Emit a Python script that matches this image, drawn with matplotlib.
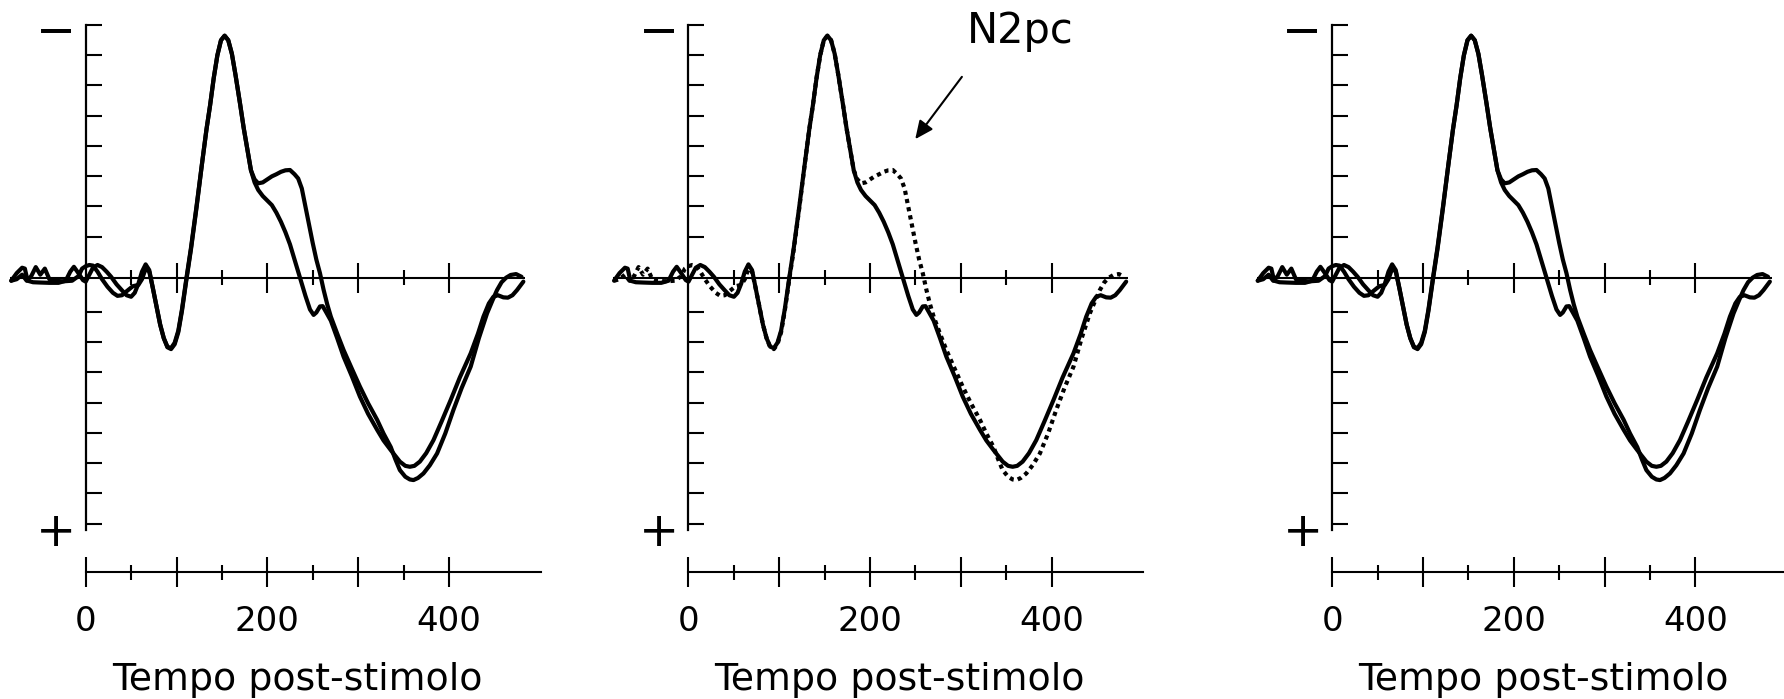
import matplotlib
matplotlib.use("Agg")
import matplotlib.pyplot as plt

# ---------------- data ----------------
# curve A (solid in every panel): time (ms), amplitude (uV, negative drawn upward)
A_t = [-82, -76, -70, -67, -64, -58, -50, -40, -30, -22, -17, -13, -8, -3, 0, 4, 8, 13, 18, 23,
       28, 34, 40, 45, 50, 54, 58, 62, 66, 70, 74, 78, 82, 86, 90, 94, 98, 102, 106, 111,
       116, 122, 128, 133, 137, 141, 145, 149, 153, 157, 161, 165, 170, 174, 178, 182, 186, 190, 195, 200,
       205, 210, 215, 220, 225, 230, 236, 242, 247, 251, 254, 258, 261, 265, 270, 277, 284, 293, 302, 311,
       321, 328, 336, 346, 352, 357, 362, 368, 375, 383, 392, 402, 412, 424, 432, 438, 444, 449, 454, 460,
       465, 470, 475, 482]
A_v = [0.10, -0.15, -0.33, -0.30, 0.10, 0.15, 0.16, 0.17, 0.17, 0.10, -0.20, -0.36, -0.15, 0.08, 0.13, -0.10, -0.33, -0.42, -0.35, -0.20,
       -0.03, 0.22, 0.42, 0.58, 0.63, 0.50, 0.20, -0.20, -0.44, -0.25, 0.35, 0.95, 1.55, 2.00, 2.28, 2.33, 2.15, 1.75, 1.05, 0.00,
       -1.00, -2.35, -3.75, -4.90, -5.70, -6.60, -7.35, -7.85, -8.00, -7.85, -7.40, -6.70, -5.75, -4.95, -4.25, -3.55, -3.15, -2.90, -2.70, -2.55,
       -2.40, -2.15, -1.85, -1.50, -1.10, -0.60, 0.00, 0.60, 1.05, 1.23, 1.15, 0.95, 0.94, 1.15, 1.42, 2.00, 2.61, 3.25, 3.93, 4.50,
       5.03, 5.38, 5.70, 6.08, 6.22, 6.25, 6.22, 6.08, 5.80, 5.37, 4.75, 4.04, 3.30, 2.50, 1.85, 1.29, 0.85, 0.63, 0.58, 0.65,
       0.66, 0.58, 0.41, 0.13]

# curve B (dotted in the middle panel)
B_t = [-82, -76, -70, -65, -60, -55, -50, -45, -40, -35, -25, -15, -8, -4, 0, 4, 8, 13, 18, 24,
       30, 35, 40, 45, 52, 58, 62, 66, 70, 74, 78, 82, 86, 90, 94, 98, 102, 106, 111, 116,
       122, 128, 133, 137, 141, 145, 149, 153, 157, 161, 165, 170, 174, 178, 182, 186, 190, 195, 200, 205,
       210, 215, 220, 225, 230, 234, 238, 241, 244, 247, 250, 254, 258, 262, 266, 270, 277, 284, 293, 302,
       311, 321, 328, 336, 341, 346, 352, 357, 361, 366, 372, 379, 387, 396, 405, 414, 424, 433, 442, 448,
       453, 458, 463, 468, 474, 480]
B_v = [0.10, 0.05, -0.10, 0.10, -0.05, -0.35, -0.10, -0.30, 0.05, 0.10, 0.12, 0.10, -0.05, -0.30, -0.38, -0.42, -0.40, -0.20, 0.05, 0.30,
       0.50, 0.60, 0.58, 0.45, 0.28, 0.24, 0.05, -0.30, -0.20, 0.35, 0.95, 1.55, 2.00, 2.30, 2.36, 2.20, 1.80, 1.10, 0.05, -0.95,
       -2.30, -3.75, -4.90, -5.70, -6.60, -7.35, -7.85, -8.00, -7.85, -7.40, -6.70, -5.75, -4.95, -4.25, -3.55, -3.25, -3.12, -3.15, -3.25, -3.35,
       -3.42, -3.50, -3.55, -3.56, -3.42, -3.28, -2.95, -2.50, -2.05, -1.60, -1.15, -0.60, -0.15, 0.40, 0.88, 1.29, 1.85, 2.39, 3.00, 3.60,
       4.15, 4.70, 5.15, 5.60, 6.00, 6.36, 6.58, 6.67, 6.69, 6.62, 6.47, 6.20, 5.81, 5.15, 4.37, 3.65, 2.94, 2.00, 1.18, 0.75,
       0.41, 0.15, 0.00, -0.09, -0.12, -0.03]

x_major = [0, 100, 200, 300, 400]
x_major_labels = ["0", "", "200", "", "400"]
x_minor = [50, 150, 250, 350]
zero_major = [100, 200, 300, 400]
zero_minor = [50, 150, 250, 350]
y_ticks = [-8.36, -7.36, -6.36, -5.36, -4.36, -3.36, -2.36, -1.36,
           1.13, 2.13, 3.13, 4.13, 5.13, 6.13, 7.13, 8.13]
panel_dotted = [False, True, False]
xlabel_text = "Tempo post-stimolo"
annot_text = "N2pc"

# ---------------- layout ----------------
W, H = 1784, 699
PX_PER_MS = 0.908
PX_PER_UV = 30.25
Y_ZERO_PX = 277.7
PANEL_X0 = [85.7, 688.5, 1332.2]

fig = plt.figure(figsize=(W / 100, H / 100), dpi=100)
fig.patch.set_facecolor("white")

for i, x0 in enumerate(PANEL_X0):
    ax = fig.add_axes([0, 0, 1, 1])
    ax.patch.set_visible(False)
    ax.set_xlim(-x0 / PX_PER_MS, (W - x0) / PX_PER_MS)
    ax.set_ylim((H - Y_ZERO_PX) / PX_PER_UV, -Y_ZERO_PX / PX_PER_UV)

    for s in ("top", "right"):
        ax.spines[s].set_visible(False)
    ax.spines["left"].set_position(("data", 0))
    ax.spines["left"].set_bounds(-8.36, 8.34)
    ax.spines["left"].set_linewidth(1.6)
    ax.spines["bottom"].set_position(("data", (572.3 - Y_ZERO_PX) / PX_PER_UV))
    ax.spines["bottom"].set_bounds(0, 501)
    ax.spines["bottom"].set_linewidth(1.5)

    ax.set_xticks(x_major, labels=x_major_labels)
    ax.set_xticks(x_minor, minor=True)
    ax.tick_params(axis="x", which="major", direction="inout", length=21.6, width=1.5,
                   labelsize=24.5, pad=12.5)
    ax.tick_params(axis="x", which="minor", direction="inout", length=10.8, width=1.5)
    ax.set_yticks(y_ticks)
    ax.tick_params(axis="y", which="major", direction="in", length=11.5, width=1.5,
                   labelleft=False)
    ax.yaxis.set_minor_locator(matplotlib.ticker.NullLocator())

    # zero line with its own ticks
    ax.plot([-83, 484], [0, 0], color="black", lw=1.5, solid_capstyle="butt")
    ax.vlines(zero_major, -15 / PX_PER_UV, 15 / PX_PER_UV, color="black", lw=1.5)
    ax.vlines(zero_minor, -7.5 / PX_PER_UV, 7.5 / PX_PER_UV, color="black", lw=1.5)

    # curves
    ax.plot(A_t, A_v, color="black", lw=3.0, solid_joinstyle="round", solid_capstyle="round")
    if panel_dotted[i]:
        ax.plot(B_t, B_v, color="black", lw=3.0, linestyle=(0, (1, 1)), dash_capstyle="butt")
    else:
        ax.plot(B_t, B_v, color="black", lw=3.0, solid_joinstyle="round", solid_capstyle="round")

    # polarity signs
    ax.text(-32.7, (45.5 - Y_ZERO_PX) / PX_PER_UV, "\u2212", fontsize=34.5,
            ha="center", va="baseline")
    ax.text(-32.7, (545.5 - Y_ZERO_PX) / PX_PER_UV, "+", fontsize=34.5,
            ha="center", va="baseline")

    ax.text(232.7, (690 - Y_ZERO_PX) / PX_PER_UV, xlabel_text, fontsize=27.3,
            ha="center", va="baseline")

    if panel_dotted[i]:
        ax.text(365.9, (43.3 - Y_ZERO_PX) / PX_PER_UV, annot_text, fontsize=30,
                ha="center", va="baseline")
        ax.annotate("", xy=(249.7, -4.58), xytext=(301.1, -6.64),
                    arrowprops=dict(arrowstyle="-|>,head_length=0.55,head_width=0.25",
                                    mutation_scale=20, lw=1.5, color="black",
                                    shrinkA=0, shrinkB=0))

fig.savefig("out.png", dpi=100, facecolor="white")
